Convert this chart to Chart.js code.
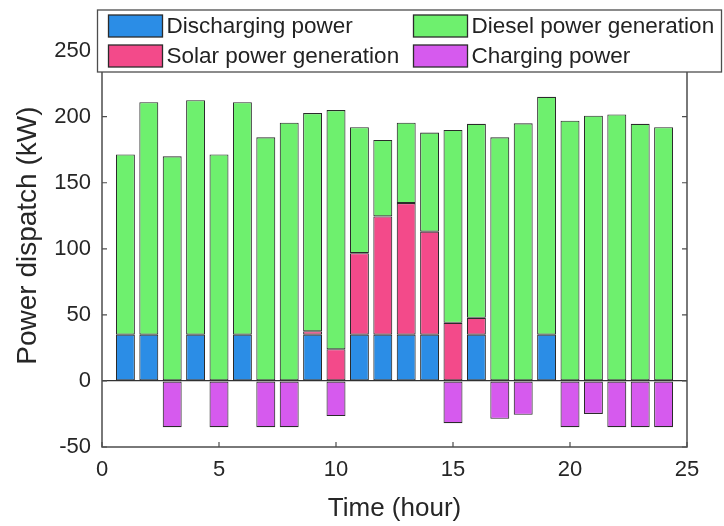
<!DOCTYPE html>
<html>
<head>
<meta charset="utf-8">
<script src="https://cdn.jsdelivr.net/npm/chart.js@4.4.1/dist/chart.umd.min.js"></script>
<style>
  html, body { margin: 0; padding: 0; background: #fff; }
  #wrap { width: 724px; height: 526px; }
</style>
</head>
<body>
<div id="wrap"><canvas id="myChart" width="724" height="526"></canvas></div>
<script>
// hours 1..24
const hours = [1, 2, 3, 4, 5, 6, 7, 8, 9, 10, 11, 12, 13, 14, 15, 16, 17, 18, 19, 20, 21, 22, 23, 24];

// kW
const discharging = [35, 35, 0, 35, 0, 35, 0, 0, 35, 0, 35, 35, 35, 35, 0, 35, 0, 0, 35, 0, 0, 0, 0, 0];
const solar = [0, 0, 0, 0, 0, 0, 0, 0, 2.6, 24, 61.7, 89.5, 99.6, 78, 44, 12.8, 0, 0, 0, 0, 0, 0, 0, 0];
const diesel = [136.4, 176, 170, 177.5, 171.4, 176, 184.4, 195.4, 165.1, 181, 95.3, 57.9, 60.8, 75, 146, 146.8, 184.4, 195, 180, 197, 200.7, 201.7, 194.6, 192];
const charging = [0, 0, -35, 0, -35, 0, -35, -35, 0, -26.6, 0, 0, 0, 0, -32, 0, -28.6, -25.6, 0, -35, -25, -35, -35, -35];

const yTicks = [-50, 0, 50, 100, 150, 200, 250];
const xTicks = [0, 5, 10, 15, 20, 25];

const FONT = '"Liberation Sans", Arial, Helvetica, sans-serif';
const EDGE = '#2b2b2b';
const AXIS = '#4d4d4d';

function pts(arr) {
    // zero parts are left out so they do not draw empty outlined bars
    return hours.map((h, i) => ({ x: h, y: arr[i] === 0 ? null : arr[i] }));
}

function ds(label, arr, color) {
    return {
        label: label,
        data: pts(arr),
        backgroundColor: color,
        borderColor: EDGE,
        borderWidth: 1.1,
        borderSkipped: false,
        categoryPercentage: 1,
        barPercentage: 0.81
    };
}

// box + inward ticks like the original plot
const boxPlugin = {
    id: 'boxPlugin',
    afterDatasetsDraw(chart) {
        const { ctx, chartArea: a, scales } = chart;
        ctx.save();
        ctx.strokeStyle = AXIS;
        ctx.lineWidth = 1.5;
        ctx.strokeRect(a.left, a.top, a.right - a.left, a.bottom - a.top);
        ctx.lineWidth = 1.2;
        const tl = 5;
        ctx.beginPath();
        xTicks.forEach(v => {
            const px = scales.x.getPixelForValue(v);
            ctx.moveTo(px, a.bottom); ctx.lineTo(px, a.bottom - tl);
            ctx.moveTo(px, a.top); ctx.lineTo(px, a.top + tl);
        });
        yTicks.forEach(v => {
            const py = scales.y.getPixelForValue(v);
            ctx.moveTo(a.left, py); ctx.lineTo(a.left + tl, py);
            ctx.moveTo(a.right, py); ctx.lineTo(a.right - tl, py);
        });
        ctx.stroke();
        ctx.restore();
    }
};

// two-column legend box at the top
const legendBox = {
    id: 'legendBox',
    afterDraw(chart) {
        const ctx = chart.ctx;
        const sets = chart.data.datasets;
        const order = [0, 2, 1, 3];   // Discharging, Diesel / Solar, Charging
        const x0 = 97.5, y0 = 10, w = 624, h = 62;
        ctx.save();
        ctx.fillStyle = '#fff';
        ctx.fillRect(x0, y0, w, h);
        ctx.strokeStyle = AXIS;
        ctx.lineWidth = 1.3;
        ctx.strokeRect(x0, y0, w, h);
        ctx.font = '22.5px ' + FONT;
        ctx.textBaseline = 'middle';
        ctx.textAlign = 'left';
        const colX = [108.5, 413.5];
        const rowY = [26, 56];
        order.forEach((di, k) => {
            const col = k % 2, row = Math.floor(k / 2);
            const sx = colX[col], cy = rowY[row];
            ctx.fillStyle = sets[di].backgroundColor;
            ctx.fillRect(sx, cy - 11, 54, 22);
            ctx.strokeStyle = EDGE;
            ctx.lineWidth = 1.3;
            ctx.strokeRect(sx, cy - 11, 54, 22);
            ctx.fillStyle = '#222';
            ctx.fillText(sets[di].label, sx + 58, cy + 1);
        });
        ctx.restore();
    }
};

const ctx = document.getElementById('myChart').getContext('2d');
const myChart = new Chart(ctx, {
    type: 'bar',
    data: {
        datasets: [
            ds('Discharging power', discharging, 'rgb(43,141,230)'),
            ds('Solar power generation', solar, 'rgb(243,74,138)'),
            ds('Diesel power generation', diesel, 'rgb(110,240,110)'),
            ds('Charging power', charging, 'rgb(214,90,238)')
        ]
    },
    options: {
        responsive: false,
        animation: false,
        layout: { padding: { left: 0, right: 37, top: 10, bottom: 0 } },
        plugins: {
            legend: { display: false },
            tooltip: { enabled: false }
        },
        scales: {
            x: {
                type: 'linear',
                stacked: true,
                min: 0,
                max: 25,
                offset: false,
                grid: { display: false, drawTicks: false, offset: false },
                border: { display: false },
                afterBuildTicks: s => { s.ticks = xTicks.map(v => ({ value: v })); },
                afterFit: s => { s.height = 79; },
                ticks: {
                    padding: 10,
                    color: '#262626',
                    font: { family: FONT, size: 22 },
                    maxRotation: 0
                },
                title: {
                    display: true,
                    text: 'Time (hour)',
                    color: '#262626',
                    font: { family: FONT, size: 26 },
                    padding: { top: 0, bottom: 2 }
                }
            },
            y: {
                stacked: true,
                min: -50,
                max: 270,
                grid: {
                    drawTicks: false,
                    lineWidth: 1.3,
                    color: c => (c.tick && c.tick.value === 0) ? '#333' : 'rgba(0,0,0,0)'
                },
                border: { display: false },
                afterBuildTicks: s => { s.ticks = yTicks.map(v => ({ value: v })); },
                afterFit: s => { s.width = 102; },
                ticks: {
                    padding: 11,
                    color: '#262626',
                    font: { family: FONT, size: 22 }
                },
                title: {
                    display: true,
                    text: 'Power dispatch (kW)',
                    color: '#262626',
                    font: { family: FONT, size: 28 },
                    padding: { top: 11, bottom: 0 }
                }
            }
        }
    },
    plugins: [boxPlugin, legendBox]
});
</script>
</body>
</html>
